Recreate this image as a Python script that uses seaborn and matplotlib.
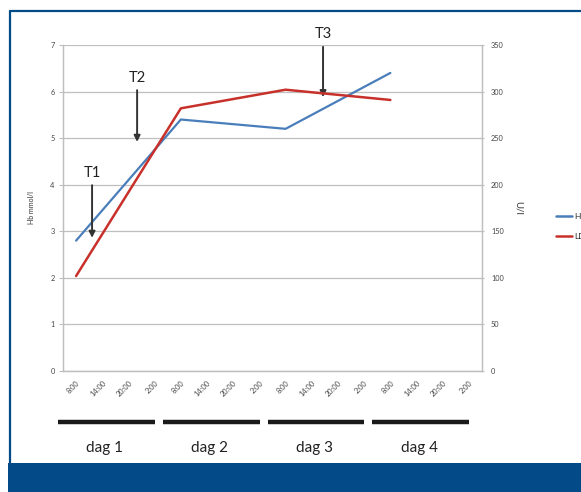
import matplotlib
matplotlib.use("Agg")
import matplotlib.pyplot as plt
from matplotlib.lines import Line2D
from matplotlib.patches import Rectangle
import numpy as np
import pandas as pd
import seaborn as sns

# Time slots per day and day labels
times = ["8:00", "14:00", "20:00", "2:00"]
days = ["dag 1", "dag 2", "dag 3", "dag 4"]
tick_labels = times * len(days)

# Measurements taken at 8:00 on each day (category index of that slot)
sample_slots = [0, 4, 8, 12]
hb_values = [2.8, 5.4, 5.2, 6.4]          # mmol/l, left axis
ldh_values = [102, 282, 302, 291]         # U/l, right axis

# Treatment moments: (label, slot position, arrow start Hb, arrow end Hb)
markers = ["T1", "T2", "T3"]
marker_x = [0.61, 2.33, 9.43]
marker_top = [3.99, 6.03, 6.96]
marker_tip = [2.86, 4.92, 5.88]

sns.set_theme(style="white")
plt.rcParams["font.family"] = ["Lato", "DejaVu Sans"]

hb_color = "#4a7ebb"
ldh_color = "#c8312b"
grid_color = "#bfbfbf"
frame_blue = "#034b88"

df_hb = pd.DataFrame({"slot": sample_slots, "value": hb_values})
df_ldh = pd.DataFrame({"slot": sample_slots, "value": ldh_values})

fig = plt.figure(figsize=(5.81, 4.92), dpi=100)
ax = fig.add_axes([63 / 581, 1 - 371 / 492, 419 / 581, 326 / 492])
ax2 = ax.twinx()

sns.lineplot(data=df_hb, x="slot", y="value", ax=ax, color=hb_color,
             linewidth=1.6, legend=False)
sns.lineplot(data=df_ldh, x="slot", y="value", ax=ax2, color=ldh_color,
             linewidth=1.8, legend=False)

n = len(tick_labels)
ax.set_xlim(-0.5, n - 0.5)
ax.set_ylim(0, 7)
ax2.set_ylim(0, 350)
ax.set_yticks(range(0, 8))
ax2.set_yticks(range(0, 351, 50))
ax.set_xticks(range(n))
ax.set_xticklabels(tick_labels, rotation=45, ha="right", rotation_mode="anchor",
                   fontsize=5.3, color="#444444")
ax.set_xticks(np.arange(-0.5, n, 1), minor=True)
ax.tick_params(axis="x", which="major", length=0, pad=6)
ax.tick_params(axis="x", which="minor", length=3, color=grid_color, width=0.8,
               direction="out")
ax.tick_params(axis="y", labelsize=5.3, labelcolor="#444444", length=3,
               color=grid_color, width=0.8, direction="out", pad=3)
ax2.tick_params(axis="y", labelsize=5.3, labelcolor="#444444", length=3,
                color=grid_color, width=0.8, direction="inout", pad=5)
ax.set_xlabel("")
ax.set_ylabel("Hb mmol/l", fontsize=5, color="#333333", labelpad=11)
ax2.set_ylabel("U/l", fontsize=7, color="#333333", rotation=270, labelpad=14)

ax.yaxis.grid(True, color=grid_color, linewidth=0.9)
ax.set_axisbelow(True)
for a in (ax, ax2):
    a.spines["top"].set_visible(False)
    for s in ("left", "right", "bottom"):
        a.spines[s].set_color(grid_color)
        a.spines[s].set_linewidth(0.9)
ax2.set_zorder(ax.zorder + 1)
ax2.patch.set_visible(False)

# Treatment arrows
for label, x, y0, y1 in zip(markers, marker_x, marker_top, marker_tip):
    ax.annotate("", xy=(x, y1), xytext=(x, y0),
                arrowprops=dict(arrowstyle="-|>", color="#333333", lw=1.4,
                                mutation_scale=9, shrinkA=0, shrinkB=0),
                annotation_clip=False, zorder=5)
    ax.text(x, y0 + 0.12, label, ha="center", va="bottom", fontsize=10.5,
            color="#222222", clip_on=False, zorder=5)

# Day bars and labels under the time slots
trans = ax.get_xaxis_transform()
for i, day in enumerate(days):
    start = i * 4
    ax.add_line(Line2D([start - 0.69, start + 3.01], [-0.155, -0.155],
                       transform=trans, color="#1a1a1a", linewidth=3.2,
                       clip_on=False, solid_capstyle="butt"))
    ax.text(start + 1.1, -0.215, day, transform=trans, ha="center",
            va="top", fontsize=11, color="#222222", clip_on=False)

# Legend, running off the right edge
handles = [Line2D([], [], color=hb_color, lw=1.8),
           Line2D([], [], color=ldh_color, lw=1.8)]
fig.legend(handles, ["Hb", "LDH"], loc="upper left",
           bbox_to_anchor=(548 / 581, 1 - 205 / 492), frameon=False,
           fontsize=6, handlelength=2.0, labelspacing=1.6, handletextpad=0.3)

# Page frame and bottom band
fig.add_artist(Line2D([10 / 581, 10 / 581], [1 - 463 / 492, 1 - 11 / 492],
                      transform=fig.transFigure, color=frame_blue, linewidth=1.6))
fig.add_artist(Line2D([10 / 581, 1.0], [1 - 11 / 492, 1 - 11 / 492],
                      transform=fig.transFigure, color=frame_blue, linewidth=1.6))
fig.add_artist(Rectangle((8 / 581, 0), 1, 1 - 463 / 492,
                         transform=fig.transFigure, color=frame_blue, lw=0))

fig.savefig("out.png", dpi=100)
